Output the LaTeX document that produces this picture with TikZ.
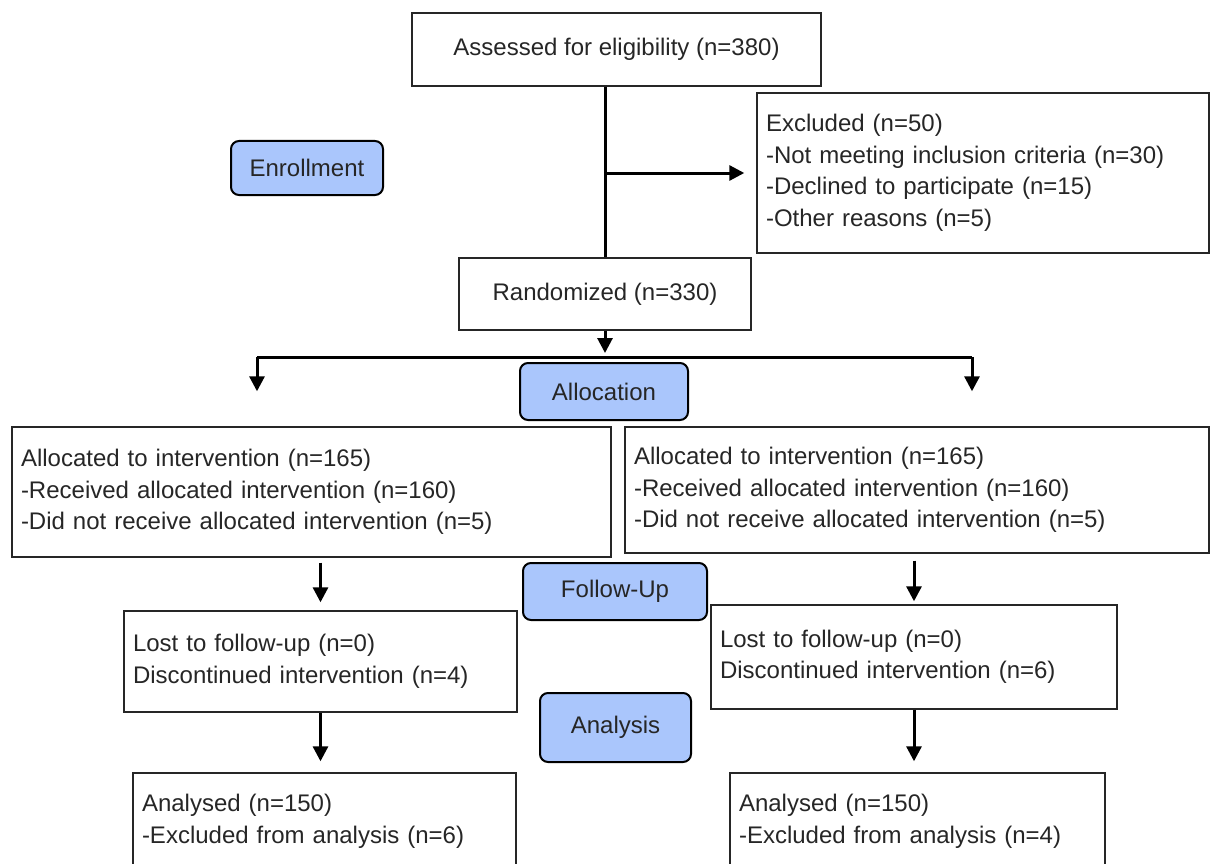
\documentclass[tikz,border=0pt]{standalone}
\usepackage{fontspec}
\setmainfont{Liberation Sans}
\usetikzlibrary{arrows.meta}
\definecolor{phaseblue}{RGB}{170,198,252}
\tikzset{
  infobox/.style={draw=black!85, line width=1.4pt, inner xsep=9pt, inner ysep=0pt,
    align=left, text=black!85, font=\fontsize{24}{31.5}\selectfont},
  phase/.style={draw=black, line width=2pt, rounded corners=8pt, fill=phaseblue,
    text=black!85, font=\fontsize{24}{31.5}\selectfont},
  trunk/.style={line width=3pt},
  flow/.style={line width=3pt, -{Triangle[length=15pt,width=15pt]}}
}
\begin{document}
\begin{tikzpicture}[x=1pt,y=-1pt]
    \useasboundingbox (0,0) rectangle (1210,864);
    % boxes
    \node[infobox, minimum width=409pt, minimum height=73pt] (assess) at (616.5,49.5)
      {Assessed for eligibility (n=380)};
    \node[infobox, text width=434pt, minimum height=160pt] (excl) at (983,173)
      {Excluded (n=50)\\-Not meeting inclusion criteria (n=30)\\-Declined to participate (n=15)\\-Other reasons (n=5)};
    \node[infobox, minimum width=292pt, minimum height=72pt] (rand) at (605,294)
      {Randomized (n=330)};
    \node[infobox, text width=581pt, minimum height=130pt] (allocL) at (311.5,492)
      {Allocated to intervention (n=165)\\-Received allocated intervention (n=160)\\-Did not receive allocated intervention (n=5)};
    \node[infobox, text width=566pt, minimum height=126pt] (allocR) at (917,490)
      {Allocated to intervention (n=165)\\-Received allocated intervention (n=160)\\-Did not receive allocated intervention (n=5)};
    \node[infobox, text width=375pt, minimum height=101pt] (lostL) at (320.5,661.5)
      {Lost to follow-up (n=0)\\Discontinued intervention (n=4)};
    \node[infobox, text width=388pt, minimum height=104pt] (lostR) at (914,657)
      {Lost to follow-up (n=0)\\Discontinued intervention (n=6)};
    \node[infobox, text width=365pt, minimum height=97pt] (analL) at (324.5,821.5)
      {Analysed (n=150)\\-Excluded from analysis (n=6)};
    \node[infobox, text width=357pt, minimum height=97pt] (analR) at (917.5,821.5)
      {Analysed (n=150)\\-Excluded from analysis (n=4)};
    % phase labels
    \node[phase, minimum width=152pt, minimum height=54pt] (enroll) at (307,168) {Enrollment};
    \node[phase, minimum width=168pt, minimum height=57pt] (alloc) at (604,391.5) {Allocation};
    \node[phase, minimum width=184pt, minimum height=57pt] (follow) at (615,591.5) {Follow-Up};
    \node[phase, minimum width=151pt, minimum height=69pt] (analysis) at (615.5,727.5) {Analysis};
    % connectors
    \coordinate (splitL) at (257,357);
    \coordinate (splitR) at (972,357);
    \draw[trunk] (assess.south -| rand.north) -- (rand.north);
    \draw[flow, shorten >=12pt] (rand.north |- excl.west) -- (excl.west);
    \draw[flow, shorten >=4pt] (rand.south) -- (rand.south |- splitL);
    \draw[trunk] (splitL) -- (splitR);
    \draw[flow, shorten >=35pt] (splitL) -- (splitL |- allocL.north);
    \draw[flow, shorten >=35pt] (splitR) -- (splitR |- allocR.north);
    \draw[flow, shorten <=5pt, shorten >=8pt] (allocL.south -| lostL.north) -- (lostL.north);
    \draw[flow, shorten <=7pt, shorten >=3pt] (allocR.south -| lostR.north) -- (lostR.north);
    \draw[flow, shorten >=11pt] (lostL.south) -- (lostL.south |- analL.north);
    \draw[flow, shorten >=11pt] (lostR.south) -- (lostR.south |- analR.north);
\end{tikzpicture}
\end{document}
